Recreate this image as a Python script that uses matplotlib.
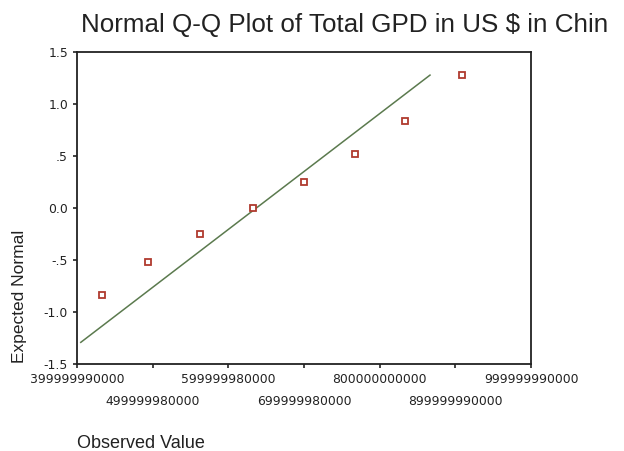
import matplotlib
matplotlib.use("Agg")
import matplotlib.pyplot as plt
import numpy as np

plt.rcParams["font.family"] = ["Liberation Sans", "DejaVu Sans"]

# observed GDP values (US $) and their expected normal scores
observed = [4.33e11, 4.94e11, 5.62e11, 6.33e11, 7.00e11, 7.67e11, 8.34e11, 9.09e11]
expected = [-0.84, -0.52, -0.25, 0.0, 0.25, 0.52, 0.84, 1.28]

# reference line: expected = (x - mean) / sd
line_mean = 6.37e11
line_sd = 1.796e11
line_x = [4.05e11, 8.665e11]

x_ticks = [399999990000, 499999980000, 599999980000, 699999980000,
           800000000000, 899999990000, 999999990000]
y_ticks = [1.5, 1.0, 0.5, 0.0, -0.5, -1.0, -1.5]
y_tick_labels = ["1.5", "1.0", ".5", "0.0", "-.5", "-1.0", "-1.5"]

fig = plt.figure(figsize=(6.24, 4.51), dpi=100)
ax = fig.add_axes([0.1234, 0.1929, 0.7276, 0.6918])

lx = np.array(line_x)
ax.plot(lx, (lx - line_mean) / line_sd, color="#5b7a4e", linewidth=1.1)
ax.plot(observed, expected, linestyle="none", marker="s", markersize=5,
        markerfacecolor="white", markeredgecolor="#b03a2e", markeredgewidth=1.3)

ax.set_xlim(x_ticks[0], x_ticks[-1])
ax.set_ylim(-1.5, 1.5)

tick_font = dict(family="DejaVu Sans", size=8.9, color="#222222")
ax.set_xticks(x_ticks)
ax.set_xticklabels([str(v) for v in x_ticks], **tick_font)
# every other label sits on a second row
for i, lbl in enumerate(ax.get_xticklabels()):
    if i % 2 == 1:
        lbl.set_y(-0.072)
ax.set_yticks(y_ticks)
ax.set_yticklabels(y_tick_labels, **tick_font)

ax.tick_params(direction="out", length=3, width=1.2, colors="#222222")
ax.tick_params(axis="x", pad=3.5)
for s in ax.spines.values():
    s.set_linewidth(1.3)
    s.set_color("#222222")

fig.text(0.552, 0.945, "Normal Q-Q Plot of Total GPD in US $ in Chin",
         ha="center", va="center", fontsize=18.7, color="#222222")
fig.text(0.031, 1 - 296 / 451, "Expected Normal", rotation=90, ha="center",
         va="center", fontsize=12.5, color="#222222")
fig.text(77 / 624, 1 - 443 / 451, "Observed Value", ha="left", va="center",
         fontsize=13, color="#222222")

fig.savefig("out.png", dpi=100)
